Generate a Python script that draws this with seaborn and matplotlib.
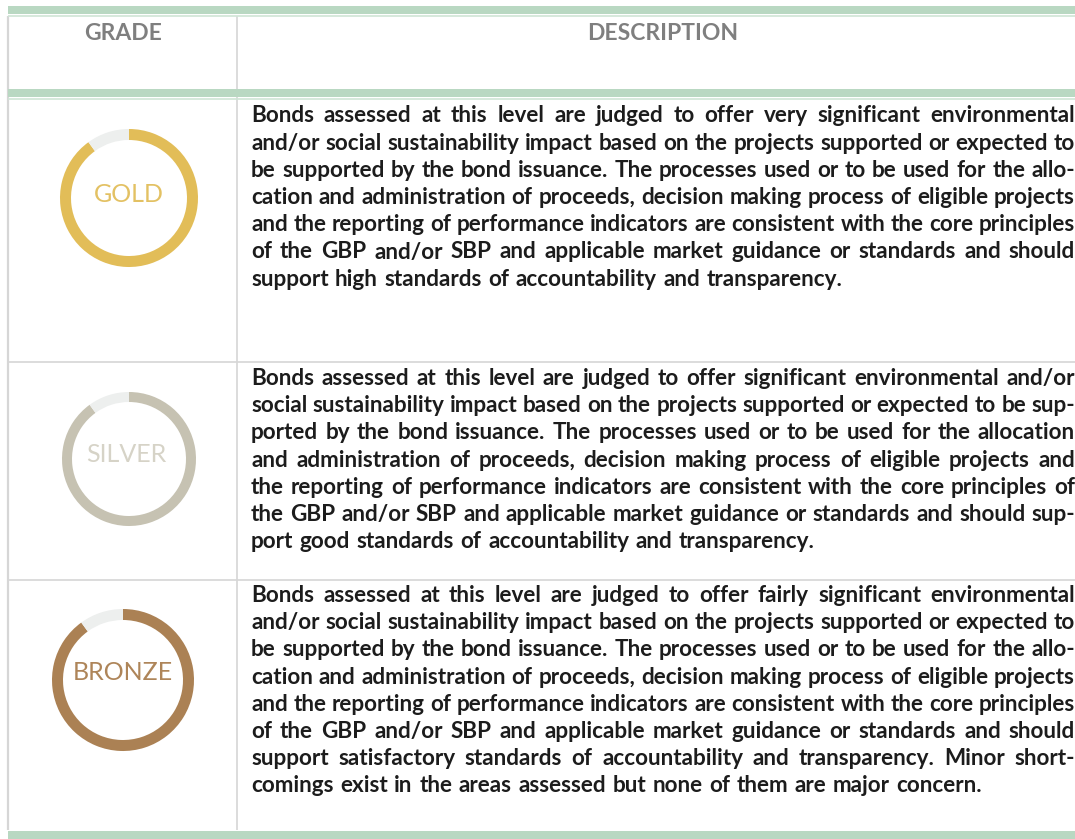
import matplotlib
matplotlib.use("Agg")
import matplotlib.pyplot as plt
import seaborn as sns

W, H = 1075, 839

grades = ["GOLD", "SILVER", "BRONZE"]
filled_share = [90, 90, 90]
empty_share = [10, 10, 10]
grade_colors = ["#e2bd58", "#c6c2b2", "#ab8154"]
label_colors = ["#e3c163", "#d6d3c7", "#ae8559"]
ring_centers = [(129, 198), (129, 459), (123, 680)]
ring_radii = [69, 67, 71]
ring_widths = [11, 10, 11]
label_y = [201.5, 462.5, 680.5]
label_sizes = [18, 18, 18]

headers = ["GRADE", "DESCRIPTION"]

gold_lines = [
    "Bonds assessed at this level are judged to offer very significant environmental",
    "and/or social sustainability impact based on the projects supported or expected to",
    "be supported by the bond issuance. The processes used or to be used for the allo-",
    "cation and administration of proceeds, decision making process of eligible projects",
    "and the reporting of performance indicators are consistent with the core principles",
    "of the GBP and/or SBP and applicable market guidance or standards and should",
    "support high standards of accountability and transparency.",
]
silver_lines = [
    "Bonds assessed at this level are judged to offer significant environmental and/or",
    "social sustainability impact based on the projects supported or expected to be sup-",
    "ported by the bond issuance. The processes used or to be used for the allocation",
    "and administration of proceeds, decision making process of eligible projects and",
    "the reporting of performance indicators are consistent with the core principles of",
    "the GBP and/or SBP and applicable market guidance or standards and should sup-",
    "port good standards of accountability and transparency.",
]
bronze_lines = [
    "Bonds assessed at this level are judged to offer fairly significant environmental",
    "and/or social sustainability impact based on the projects supported or expected to",
    "be supported by the bond issuance. The processes used or to be used for the allo-",
    "cation and administration of proceeds, decision making process of eligible projects",
    "and the reporting of performance indicators are consistent with the core principles",
    "of the GBP and/or SBP and applicable market guidance or standards and should",
    "support satisfactory standards of accountability and transparency. Minor short-",
    "comings exist in the areas assessed but none of them are major concern.",
]
block_baselines = [122.5, 385, 602]
line_step = 27.2

TEXT_LEFT, TEXT_RIGHT = 251, 1075
FS = 16.2


def justified(ax, renderer, line, y, stretch):
    words = line.split(" ")
    pieces = []
    total = 0
    for w in words:
        t = ax.text(TEXT_LEFT, y, w, fontsize=FS, fontweight="bold", color="#1c1c1c",
                    family="Lato", va="baseline", ha="left")
        pieces.append(t)
        total += t.get_window_extent(renderer).width
    if stretch:
        gap = (TEXT_RIGHT - TEXT_LEFT - total) / (len(words) - 1)
    else:
        gap = 6.5
    x = TEXT_LEFT
    for t in pieces:
        t.set_x(x)
        x += t.get_window_extent(renderer).width + gap


sns.set_theme(style="white")
fig = plt.figure(figsize=(W / 100, H / 100), dpi=100)
ax = fig.add_axes([0, 0, 1, 1])

# y axis is flipped below, so the rings run counterclockwise in data terms
for i, name in enumerate(grades):
    ax.pie([filled_share[i], empty_share[i]], colors=[grade_colors[i], "#edefee"],
           startangle=-90, counterclock=True, center=ring_centers[i], radius=ring_radii[i],
           wedgeprops=dict(width=ring_widths[i], linewidth=0), frame=True)
    ax.text(ring_centers[i][0] - (3 if name == "SILVER" else 0), label_y[i], name,
            fontsize=label_sizes[i], color=label_colors[i],
            family="Lato", ha="center", va="baseline")

ax.set_xlim(0, W)
ax.set_ylim(H, 0)
ax.set_aspect("auto")
ax.axis("off")

# table rules
for y in [362, 580]:
    ax.hlines(y, 8, W, color="#d6d6d6", lw=1.2)
ax.vlines(8, 16, 830, color="#d6d6d6", lw=1.6)
ax.vlines(237, 16, 830, color="#d6d6d6", lw=1.2)
for y0, y1 in [(5.5, 13.5), (88.5, 96.5), (830.5, 839)]:
    ax.axhspan(y0, y1, xmin=8 / W, xmax=1, color="#b9d8c2", lw=0, zorder=3)
for y in [15.5, 98.5]:
    ax.hlines(y, 8, W, color="#cfe5d6", lw=1.2)

ax.text(123, 39.5, headers[0], fontsize=16.5, fontweight="bold", color="#7f7f7f",
        family="Lato", ha="center", va="baseline")
ax.text(663, 39.5, headers[1], fontsize=16.5, fontweight="bold", color="#7f7f7f",
        family="Lato", ha="center", va="baseline")

renderer = fig.canvas.get_renderer()
for lines, base in zip([gold_lines, silver_lines, bronze_lines], block_baselines):
    for j, line in enumerate(lines):
        justified(ax, renderer, line, base + j * line_step, j < len(lines) - 1)

fig.savefig("out.png", dpi=100)
plt.close(fig)
